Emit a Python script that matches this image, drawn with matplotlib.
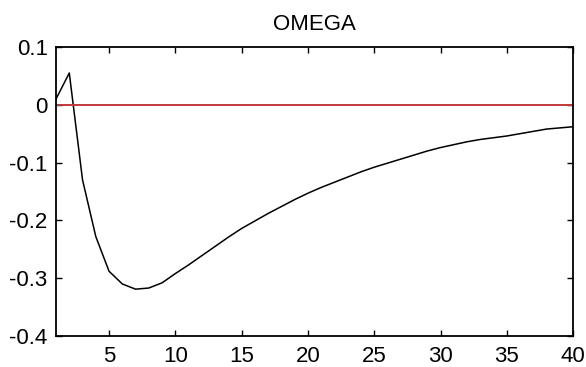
import matplotlib
matplotlib.use("Agg")
import matplotlib.pyplot as plt

periods = list(range(1, 41))
omega = [0.01, 0.055, -0.13, -0.228, -0.288, -0.31, -0.319, -0.317, -0.308, -0.292,
         -0.277, -0.261, -0.245, -0.229, -0.214, -0.201, -0.188, -0.176, -0.164, -0.153,
         -0.143, -0.134, -0.125, -0.116, -0.108, -0.101, -0.094, -0.087, -0.08, -0.074,
         -0.069, -0.064, -0.06, -0.057, -0.054, -0.05, -0.046, -0.042, -0.04, -0.038]
zero_line = [0.0] * len(periods)
xticks = [5, 10, 15, 20, 25, 30, 35, 40]
yticks = [0.1, 0, -0.1, -0.2, -0.3, -0.4]
ytick_labels = ["0.1", "0", "-0.1", "-0.2", "-0.3", "-0.4"]

plt.rcParams['font.family'] = ['Liberation Sans', 'DejaVu Sans']
fig = plt.figure(figsize=(5.86, 3.67), dpi=100)
ax = fig.add_axes([0.0956, 0.0845, 0.8824, 0.7875])
ax.plot(periods, omega, color='black', lw=1.1)
ax.plot(periods, zero_line, color='#c03a3a', lw=1.4)
ax.set_xlim(1, 40)
ax.set_ylim(-0.4, 0.1)
ax.set_xticks(xticks)
ax.set_yticks(yticks)
ax.set_yticklabels(ytick_labels)
ax.tick_params(direction='in', top=True, right=True, length=4, width=1, labelsize=16)
ax.tick_params(axis='x', pad=7)
ax.tick_params(axis='y', pad=6)
for s in ax.spines.values():
    s.set_linewidth(1.3)
ax.set_title("OMEGA", fontsize=16, pad=12)
fig.savefig("out.png", dpi=100)
